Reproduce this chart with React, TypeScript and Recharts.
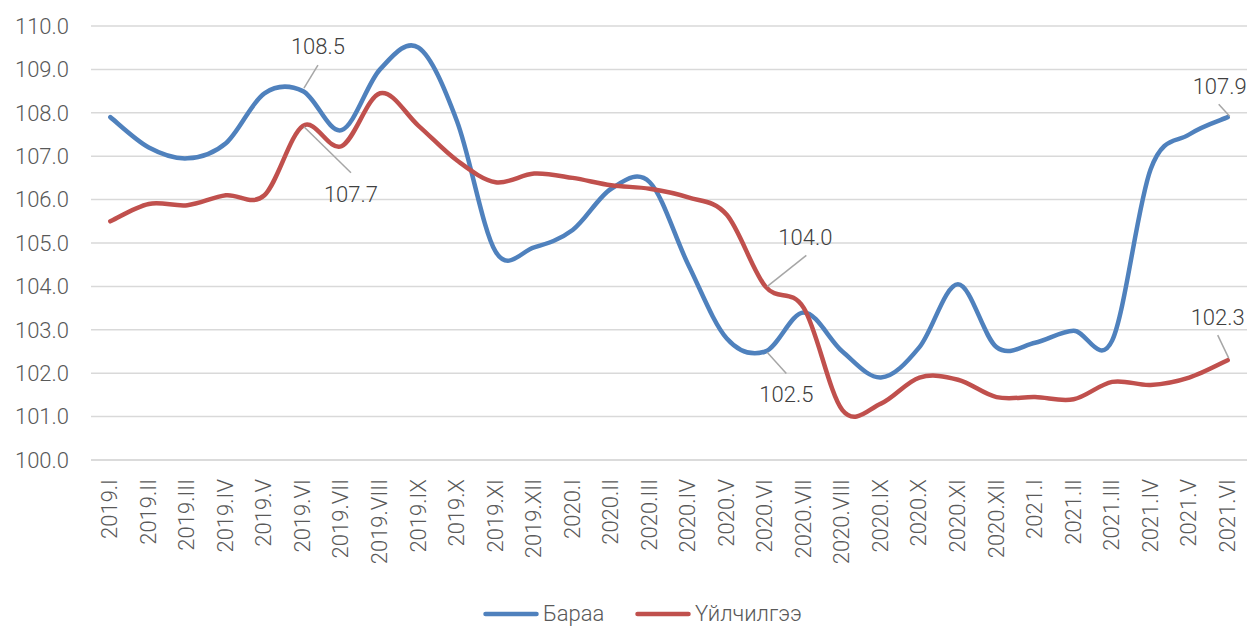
import React from 'react';
import { LineChart, Line, XAxis, YAxis, CartesianGrid, Legend, LabelList } from 'recharts';

const categories = [
  '2019.I', '2019.II', '2019.III', '2019.IV', '2019.V', '2019.VI', '2019.VII', '2019.VIII', '2019.IX', '2019.X', '2019.XI', '2019.XII',
  '2020.I', '2020.II', '2020.III', '2020.IV', '2020.V', '2020.VI', '2020.VII', '2020.VIII', '2020.IX', '2020.X', '2020.XI', '2020.XII',
  '2021.I', '2021.II', '2021.III', '2021.IV', '2021.V', '2021.VI',
];

const goods = [
  107.9, 107.2, 106.95, 107.3, 108.45, 108.5, 107.6, 109.0, 109.5, 107.8, 104.8, 104.9,
  105.3, 106.25, 106.4, 104.5, 102.8, 102.5, 103.4, 102.5, 101.9, 102.6, 104.05, 102.6,
  102.7, 102.98, 102.75, 106.7, 107.5, 107.9,
];

const services = [
  105.5, 105.9, 105.87, 106.1, 106.1, 107.7, 107.23, 108.45, 107.7, 106.9, 106.4, 106.6,
  106.5, 106.33, 106.25, 106.05, 105.65, 104.0, 103.5, 101.15, 101.3, 101.9, 101.85, 101.45,
  101.45, 101.4, 101.8, 101.73, 101.9, 102.3,
];

const yTicks = [100, 101, 102, 103, 104, 105, 106, 107, 108, 109, 110];

const seriesNames = ['Бараа', 'Үйлчилгээ'];

const data = categories.map((c, i) => ({ cat: c, goods: goods[i], services: services[i] }));

const FONT = 'Roboto, "Noto Sans", sans-serif';
const BLUE = '#4F81BD';
const RED = '#C0504D';

// label placement: text offset (tx, ty baseline) and leader line (x1,y1)->(x2,y2) relative to point
type LabelPos = { tx: number; ty: number; l: [number, number, number, number] };
const goodsLabels: Record<number, LabelPos> = {
  5: { tx: 15, ty: -37, l: [1, -3, 15, -26] },
  17: { tx: 21, ty: 50, l: [2, 1, 21, 22] },
  29: { tx: -8, ty: -23, l: [2, -1, -9, -13] },
};
const servicesLabels: Record<number, LabelPos> = {
  5: { tx: 48, ty: 76, l: [1, 1, 48, 47] },
  17: { tx: 40, ty: -41, l: [2, 0, 41, -31] },
  29: { tx: -10, ty: -35, l: [1, -2, -10, -25] },
};

function catmullRom(context: any) {
  let pts: [number, number][] = [];
  return {
    areaStart() {},
    areaEnd() {},
    lineStart() {
      pts = [];
    },
    lineEnd() {
      const n = pts.length;
      if (!n) return;
      context.moveTo(pts[0][0], pts[0][1]);
      for (let i = 0; i < n - 1; i++) {
        const p0 = pts[i - 1] || pts[i];
        const p1 = pts[i];
        const p2 = pts[i + 1];
        const p3 = pts[i + 2] || p2;
        context.bezierCurveTo(
          p1[0] + (p2[0] - p0[0]) / 6,
          p1[1] + (p2[1] - p0[1]) / 6,
          p2[0] - (p3[0] - p1[0]) / 6,
          p2[1] - (p3[1] - p1[1]) / 6,
          p2[0],
          p2[1]
        );
      }
    },
    point(x: any, y: any) {
      pts.push([+x, +y]);
    },
  };
}

const makeLabel = (map: Record<number, LabelPos>) => (props: any) => {
  const { x, y, index, value } = props;
  const cfg = map[index];
  if (!cfg) return null;
  return (
    <g>
      <line x1={x + cfg.l[0]} y1={y + cfg.l[1]} x2={x + cfg.l[2]} y2={y + cfg.l[3]} stroke="#A6A6A6" strokeWidth={1.5} />
      <text x={x + cfg.tx} y={y + cfg.ty} textAnchor="middle" fontFamily={FONT} fontWeight={300} fontSize={22} fill="#404040">
        {Number(value).toFixed(1)}
      </text>
    </g>
  );
};

const XTick = (props: any) => {
  const { x, y, payload } = props;
  const tx = x + 7;
  const ty = y + 17;
  return (
    <text x={tx} y={ty} transform={`rotate(-90, ${tx}, ${ty})`} textAnchor="end" fontFamily={FONT} fontWeight={300} fontSize={22} fill="#595959">
      {payload.value}
    </text>
  );
};

const LegendContent = () => {
  const items = [
    { name: seriesNames[0], color: BLUE, left: 483 },
    { name: seriesNames[1], color: RED, left: 635 },
  ];
  return (
    <div style={{ position: 'relative', height: 40, fontFamily: FONT, fontWeight: 300, fontSize: 22, color: '#595959' }}>
      {items.map((it) => (
        <div key={it.name} style={{ position: 'absolute', left: it.left, top: 15, display: 'flex', alignItems: 'center', whiteSpace: 'nowrap' }}>
          <svg width={56} height={10} style={{ display: 'block' }}>
            <line x1={2.5} y1={5} x2={53.5} y2={5} stroke={it.color} strokeWidth={4.5} strokeLinecap="round" />
          </svg>
          <span style={{ marginLeft: 4, lineHeight: '26px' }}>{it.name}</span>
        </div>
      ))}
    </div>
  );
};

export default function App() {
  return (
    <div style={{ position: 'absolute', left: 0, top: 0, width: 1250, height: 626, background: '#fff' }}>
      <LineChart width={1250} height={626} data={data} margin={{ top: 26, right: 3, left: 0, bottom: 0 }}>
        <CartesianGrid vertical={false} stroke="#D9D9D9" strokeWidth={1.5} />
        <XAxis
          dataKey="cat"
          interval={0}
          height={126}
          tickSize={0}
          tickLine={false}
          padding={{ left: 19.3, right: 19.3 }}
          axisLine={{ stroke: '#D9D9D9', strokeWidth: 1.5 }}
          tick={<XTick />}
        />
        <YAxis
          domain={[100, 110]}
          ticks={yTicks}
          width={91}
          tickSize={0}
          tickMargin={22}
          axisLine={false}
          tickLine={false}
          tickFormatter={(v: number) => v.toFixed(1)}
          tick={{ fontFamily: FONT, fontWeight: 300, fontSize: 22, fill: '#595959' }}
        />
        <Legend verticalAlign="bottom" height={40} content={<LegendContent />} />
        <Line
          dataKey="goods"
          name={seriesNames[0]}
          type={catmullRom as any}
          stroke={BLUE}
          strokeWidth={4.5}
          strokeLinecap="round"
          dot={false}
          activeDot={false}
          isAnimationActive={false}
        >
          <LabelList dataKey="goods" content={makeLabel(goodsLabels)} />
        </Line>
        <Line
          dataKey="services"
          name={seriesNames[1]}
          type={catmullRom as any}
          stroke={RED}
          strokeWidth={4.5}
          strokeLinecap="round"
          dot={false}
          activeDot={false}
          isAnimationActive={false}
        >
          <LabelList dataKey="services" content={makeLabel(servicesLabels)} />
        </Line>
      </LineChart>
    </div>
  );
}
